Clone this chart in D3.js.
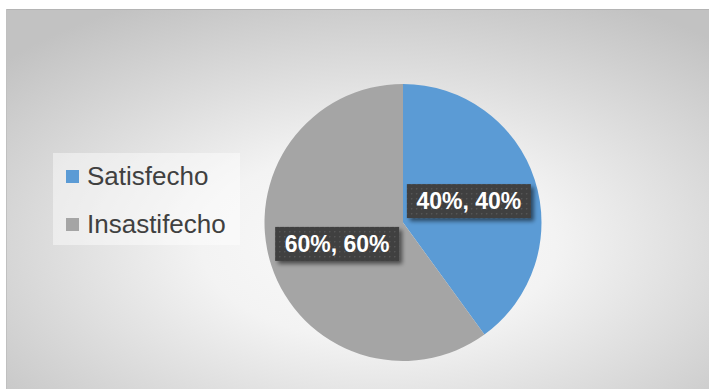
<!DOCTYPE html>
<html>
<head>
<meta charset="utf-8">
<script src="https://cdn.jsdelivr.net/npm/d3@7"></script>
<style>
  html, body { margin: 0; padding: 0; background: #ffffff; }
  svg { display: block; }
</style>
</head>
<body>
<svg id="chart" width="709" height="389"></svg>
<script>
// Survey result: share of satisfied vs. unsatisfied respondents
const categories = ["Satisfecho", "Insastifecho"];
const values = [40, 60];
const colors = ["#5b9bd5", "#a5a5a5"];

const svg = d3.select("#chart");
const W = 709, H = 389;

const defs = svg.append("defs");

// Chart-area background: soft radial grey gradient
const grad = defs.append("radialGradient")
  .attr("id", "bg")
  .attr("cx", 0.53).attr("cy", 0.62).attr("r", 0.72)
  .attr("fx", 0.53).attr("fy", 0.62);
grad.append("stop").attr("offset", "0").attr("stop-color", "#fbfbfb");
grad.append("stop").attr("offset", "0.35").attr("stop-color", "#f3f3f3");
grad.append("stop").attr("offset", "1").attr("stop-color", "#c2c2c2");

// Dotted texture for data-label boxes
const pat = defs.append("pattern")
  .attr("id", "dots")
  .attr("patternUnits", "userSpaceOnUse")
  .attr("width", 5).attr("height", 5);
pat.append("rect").attr("width", 5).attr("height", 5).attr("fill", "#3f3f3f");
pat.append("rect").attr("x", 2).attr("y", 2).attr("width", 1.4).attr("height", 1.4).attr("fill", "#5a5a5a");

// Drop shadow for label boxes
const sh = defs.append("filter").attr("id", "shadow")
  .attr("x", "-20%").attr("y", "-30%").attr("width", "150%").attr("height", "180%");
sh.append("feGaussianBlur").attr("in", "SourceAlpha").attr("stdDeviation", 2.2).attr("result", "b");
sh.append("feOffset").attr("in", "b").attr("dx", 3).attr("dy", 3).attr("result", "o");
sh.append("feComponentTransfer").attr("in", "o").attr("result", "s")
  .append("feFuncA").attr("type", "linear").attr("slope", 0.55);
const mg = sh.append("feMerge");
mg.append("feMergeNode").attr("in", "s");
mg.append("feMergeNode").attr("in", "SourceGraphic");

// Chart area
const area = { x: 6, y: 9, w: W - 6, h: H - 9 };
svg.append("rect")
  .attr("x", area.x).attr("y", area.y)
  .attr("width", area.w).attr("height", area.h)
  .attr("fill", "url(#bg)");
svg.append("line")
  .attr("x1", area.x).attr("x2", W)
  .attr("y1", area.y + 0.5).attr("y2", area.y + 0.5)
  .attr("stroke", "#b4b4b4").attr("stroke-width", 1);
svg.append("line")
  .attr("x1", area.x + 0.5).attr("x2", area.x + 0.5)
  .attr("y1", area.y).attr("y2", H)
  .attr("stroke", "#c0c0c0").attr("stroke-width", 1);

// Pie
const cx = 403, cy = 222.5, R = 138.5;
const pie = d3.pie().sort(null).value(d => d.value);
const arcs = pie(categories.map((c, i) => ({ name: c, value: values[i], color: colors[i] })));
const arc = d3.arc().innerRadius(0).outerRadius(R);

const g = svg.append("g").attr("transform", `translate(${cx},${cy})`);
g.selectAll("path.slice")
  .data(arcs)
  .join("path")
  .attr("class", "slice")
  .attr("d", arc)
  .attr("fill", d => d.data.color);

// Data labels: "value%, share%"
const total = d3.sum(values);
const fmt = v => `${Math.round(v)}%`;
const labels = g.selectAll("g.lbl")
  .data(arcs)
  .join("g")
  .attr("class", "lbl")
  .attr("transform", d => `translate(${arc.centroid(d)})`);

labels.append("rect")
  .attr("x", -62).attr("y", -17)
  .attr("width", 124).attr("height", 34)
  .attr("fill", "url(#dots)")
  .attr("filter", "url(#shadow)");

labels.append("text")
  .attr("text-anchor", "middle")
  .attr("dy", "0.36em")
  .attr("fill", "#ffffff")
  .attr("font-family", "'Liberation Sans', Arial, sans-serif")
  .attr("font-weight", "bold")
  .attr("font-size", 23)
  .text(d => `${fmt(d.data.value)}, ${fmt(d.data.value / total * 100)}`);

// Legend
const legend = svg.append("g").attr("transform", "translate(53,153)");
legend.append("rect")
  .attr("width", 187).attr("height", 92)
  .attr("fill", "#ffffff").attr("fill-opacity", 0.45);

const items = legend.selectAll("g.item")
  .data(categories)
  .join("g")
  .attr("class", "item")
  .attr("transform", (d, i) => `translate(13, ${17 + i * 48})`);

items.append("rect")
  .attr("width", 13).attr("height", 13)
  .attr("fill", (d, i) => colors[i]);

items.append("text")
  .attr("x", 21).attr("y", 15)
  .attr("fill", "#404040")
  .attr("font-family", "'Liberation Sans', Arial, sans-serif")
  .attr("font-size", 26)
  .text(d => d);
</script>
</body>
</html>
